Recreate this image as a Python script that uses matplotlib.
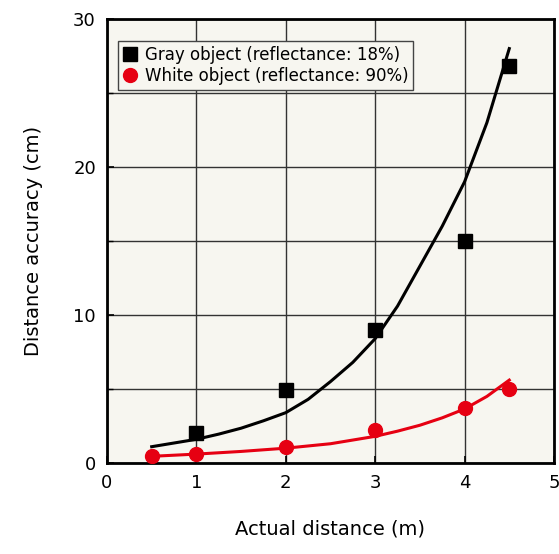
import matplotlib.pyplot as plt
import numpy as np

# measured points
gray_x = [1, 2, 3, 4, 4.5]
gray_y = [2.0, 4.9, 9.0, 15.0, 26.8]
white_x = [0.5, 1, 2, 3, 4, 4.5]
white_y = [0.5, 0.6, 1.1, 2.2, 3.7, 5.0]

# fitted curves
gray_fit_x = [0.5, 0.75, 1.0, 1.25, 1.5, 1.75, 2.0, 2.25, 2.5, 2.75, 3.0,
              3.25, 3.5, 3.75, 4.0, 4.25, 4.5]
gray_fit_y = [1.1, 1.35, 1.6, 1.95, 2.35, 2.85, 3.4, 4.3, 5.5, 6.8, 8.4,
              10.6, 13.3, 16.0, 19.0, 23.0, 28.0]
white_fit_x = [0.5, 1.0, 1.5, 2.0, 2.5, 3.0, 3.25, 3.5, 3.75, 4.0, 4.25, 4.5]
white_fit_y = [0.45, 0.6, 0.78, 1.0, 1.3, 1.8, 2.15, 2.55, 3.05, 3.65, 4.5, 5.6]

plt.rcParams['font.family'] = ['DejaVu Sans']
fig = plt.figure(figsize=(5.59, 5.54), dpi=100)
ax = fig.add_axes([0.1914, 0.1643, 0.7996, 0.8014])
ax.set_facecolor('#f7f6f0')

ax.plot(gray_fit_x, gray_fit_y, color='black', lw=2.2, zorder=3)
ax.plot(white_fit_x, white_fit_y, color='#e60012', lw=2.2, zorder=3)
ax.plot(gray_x, gray_y, 's', color='black', ms=10, zorder=4,
        label='Gray object (reflectance: 18%)')
ax.plot(white_x, white_y, 'o', color='#e60012', ms=10, zorder=4,
        label='White object (reflectance: 90%)')

ax.set_xlim(0, 5)
ax.set_ylim(0, 30)
ax.set_xticks([0, 1, 2, 3, 4, 5])
ax.set_yticks([0, 10, 20, 30])
ax.set_yticks([5, 15, 25], minor=True)
ax.grid(True, which='both', color='#333333', lw=1)
ax.set_axisbelow(True)
ax.tick_params(direction='in', labelsize=13, length=5, width=1.2, pad=8)
ax.tick_params(which='minor', direction='in', length=4, width=1)
for s in ax.spines.values():
    s.set_linewidth(2)

ax.set_xlabel('Actual distance (m)', fontsize=14, labelpad=20)
ax.set_ylabel('Distance accuracy (cm)', fontsize=14, labelpad=22)

leg = ax.legend(loc='upper left', bbox_to_anchor=(0.025, 0.95), fontsize=12,
                fancybox=False, framealpha=1, edgecolor='#444444',
                facecolor='#f7f6f0', handlelength=0.8, handletextpad=0.5,
                borderpad=0.3, labelspacing=0.15, borderaxespad=0)
leg.get_frame().set_linewidth(1)

fig.savefig('out.png', dpi=100)
